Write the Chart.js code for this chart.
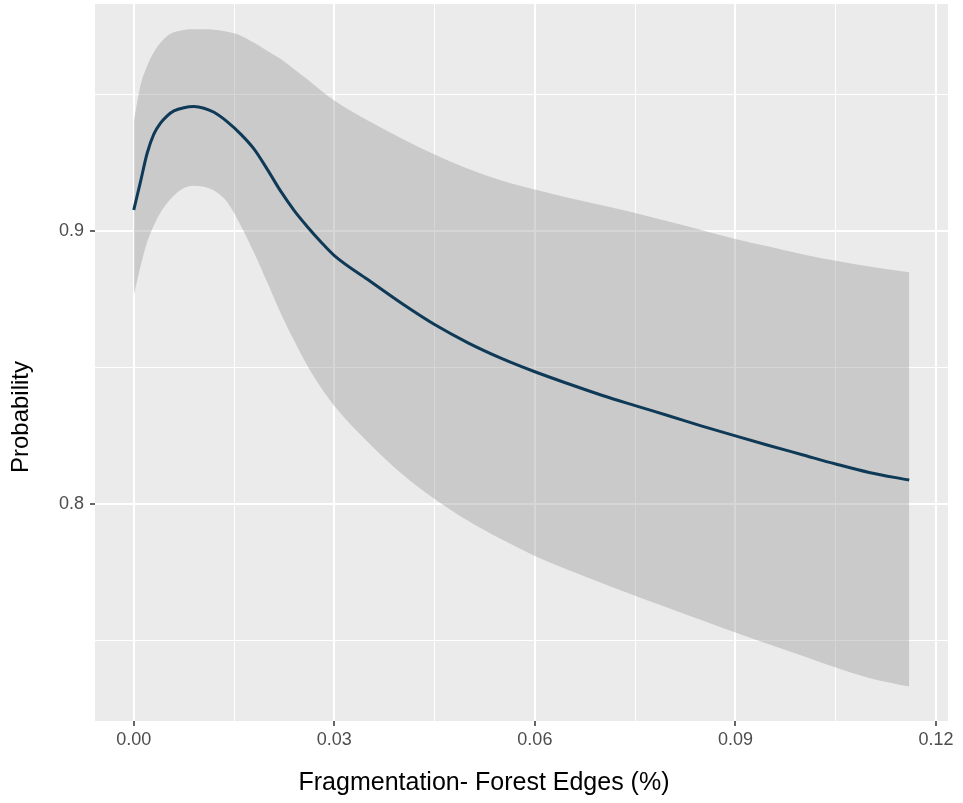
<!DOCTYPE html>
<html>
<head>
<meta charset="utf-8">
<script src="https://cdn.jsdelivr.net/npm/chart.js@4.4.1/dist/chart.umd.min.js"></script>
<style>
  html, body { margin: 0; padding: 0; background: #fff; }
  #wrap { width: 963px; height: 803px; }
</style>
</head>
<body>
<div id="wrap"><canvas id="chart" width="963" height="803"></canvas></div>
<script>
// values
const xVals = [0, 0.001, 0.002, 0.003, 0.004, 0.005, 0.006, 0.0075, 0.009, 0.0105, 0.012, 0.014, 0.016, 0.018,
    0.02, 0.022, 0.024, 0.026, 0.028, 0.03, 0.035, 0.04, 0.045, 0.05, 0.055, 0.06, 0.065, 0.07, 0.075,
    0.08, 0.085, 0.09, 0.095, 0.1, 0.105, 0.11, 0.116];
const fitVals = [0.9077, 0.918, 0.9285, 0.9355, 0.9395, 0.9422, 0.944, 0.9452, 0.9456, 0.945, 0.9435, 0.94, 0.9355, 0.93,
    0.9225, 0.9145, 0.9075, 0.9015, 0.896, 0.891, 0.8822, 0.8736, 0.8657, 0.859, 0.8533, 0.8484, 0.844, 0.8398, 0.836,
    0.8323, 0.8285, 0.8249, 0.8214, 0.818, 0.8146, 0.8115, 0.8087];
const upperVals = [0.94, 0.9533, 0.9605, 0.9655, 0.969, 0.9715, 0.9728, 0.9737, 0.9739, 0.9739, 0.9738, 0.973, 0.9716, 0.969,
    0.966, 0.963, 0.9593, 0.9555, 0.9515, 0.9478, 0.9405, 0.934, 0.928, 0.9228, 0.9185, 0.9152, 0.9122, 0.9094, 0.9066,
    0.9035, 0.9003, 0.8971, 0.8943, 0.8915, 0.8891, 0.887, 0.8849];
const lowerVals = [0.8763, 0.887, 0.896, 0.902, 0.9068, 0.9103, 0.913, 0.9158, 0.9166, 0.9162, 0.9148, 0.9105, 0.902, 0.892,
    0.881, 0.8698, 0.8598, 0.8505, 0.8426, 0.8359, 0.8227, 0.8112, 0.8018, 0.7938, 0.787, 0.7809, 0.7757, 0.771, 0.7663,
    0.7618, 0.7573, 0.7528, 0.7485, 0.7443, 0.74, 0.7362, 0.733];

const xTicks = [0, 0.015, 0.03, 0.045, 0.06, 0.075, 0.09, 0.105, 0.12];
const xTickLabels = ['0.00', '', '0.03', '', '0.06', '', '0.09', '', '0.12'];
const yTicks = [0.75, 0.8, 0.85, 0.9, 0.95];
const yTickLabels = ['', '0.8', '', '0.9', ''];

const xTitle = 'Fragmentation- Forest Edges (%)';
const yTitle = 'Probability';

Chart.defaults.font.family = '"Liberation Sans", Arial, sans-serif';

function toPoints(ys) {
    return xVals.map((x, i) => ({ x: x, y: ys[i] }));
}

// grey panel behind the grid, like ggplot
const panelBg = {
    id: 'panelBg',
    beforeDraw(chart) {
        const a = chart.chartArea;
        const ctx = chart.ctx;
        ctx.save();
        ctx.fillStyle = '#EBEBEB';
        ctx.fillRect(a.left, a.top, a.right - a.left, a.bottom - a.top);
        ctx.restore();
    }
};

// axis titles sit off-centre in the original
const axisTitles = {
    id: 'axisTitles',
    afterDraw(chart) {
        const ctx = chart.ctx;
        ctx.save();
        ctx.fillStyle = '#000';
        ctx.textAlign = 'center';
        ctx.textBaseline = 'alphabetic';
        ctx.font = '25px "Liberation Sans", Arial, sans-serif';
        ctx.fillText(xTitle, 484, 790);
        ctx.font = '24px "Liberation Sans", Arial, sans-serif';
        ctx.translate(28, 417);
        ctx.rotate(-Math.PI / 2);
        ctx.fillText(yTitle, 0, 0);
        ctx.restore();
    }
};

function gridWidth(labels) {
    return c => (labels[c.index] ? 2 : 1);
}
function tickCol(labels) {
    return c => (labels[c.index] ? '#333333' : 'rgba(0,0,0,0)');
}

const ctx = document.getElementById('chart').getContext('2d');

new Chart(ctx, {
    type: 'line',
    data: {
        datasets: [
            {
                label: 'fit',
                data: toPoints(fitVals),
                borderColor: '#0F3A57',
                borderWidth: 3,
                pointRadius: 0,
                cubicInterpolationMode: 'monotone',
                fill: false
            },
            {
                label: 'upper',
                data: toPoints(upperVals),
                borderWidth: 0,
                borderColor: 'rgba(0,0,0,0)',
                pointRadius: 0,
                cubicInterpolationMode: 'monotone',
                backgroundColor: 'rgba(153,153,153,0.4)',
                fill: '+1'
            },
            {
                label: 'lower',
                data: toPoints(lowerVals),
                borderWidth: 0,
                borderColor: 'rgba(0,0,0,0)',
                pointRadius: 0,
                cubicInterpolationMode: 'monotone',
                fill: false
            }
        ]
    },
    options: {
        responsive: false,
        animation: false,
        layout: { padding: { top: 4, right: 15, left: 0, bottom: 0 } },
        plugins: {
            legend: { display: false },
            tooltip: { enabled: false }
        },
        scales: {
            x: {
                type: 'linear',
                min: -0.0058,
                max: 0.1218,
                border: { display: false },
                grid: {
                    color: '#FFFFFF',
                    lineWidth: gridWidth(xTickLabels),
                    tickColor: tickCol(xTickLabels),
                    tickLength: 5,
                    tickWidth: 1.5
                },
                ticks: {
                    autoSkip: false,
                    maxRotation: 0,
                    padding: 3,
                    color: '#4D4D4D',
                    font: { size: 18 },
                    callback: (v, i) => xTickLabels[i]
                },
                afterBuildTicks: s => { s.ticks = xTicks.map(v => ({ value: v })); },
                afterFit: s => { s.height = 82; }
            },
            y: {
                type: 'linear',
                min: 0.7204,
                max: 0.9832,
                border: { display: false },
                grid: {
                    color: '#FFFFFF',
                    lineWidth: gridWidth(yTickLabels),
                    tickColor: tickCol(yTickLabels),
                    tickLength: 5,
                    tickWidth: 1.5
                },
                ticks: {
                    autoSkip: false,
                    padding: 6,
                    color: '#4D4D4D',
                    font: { size: 18 },
                    callback: (v, i) => yTickLabels[i]
                },
                afterBuildTicks: s => { s.ticks = yTicks.map(v => ({ value: v })); },
                afterFit: s => {
                    s.width = 95;
                    s.paddingTop = 0;
                    s.paddingBottom = 0;
                }
            }
        }
    },
    plugins: [panelBg, axisTitles]
});
</script>
</body>
</html>
